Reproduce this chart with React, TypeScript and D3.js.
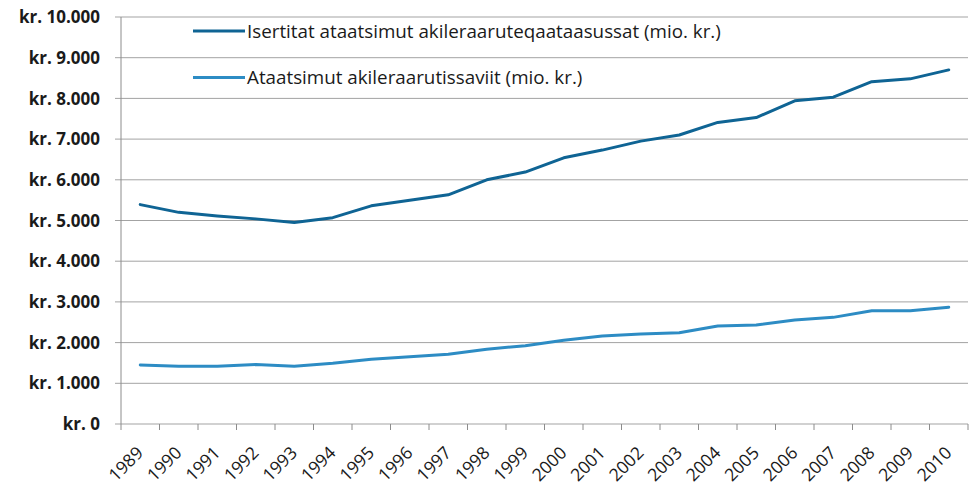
import React from "react";
import * as d3 from "d3";

// values (mio. kr.)
const years = [
  "1989", "1990", "1991", "1992", "1993", "1994", "1995", "1996", "1997", "1998", "1999",
  "2000", "2001", "2002", "2003", "2004", "2005", "2006", "2007", "2008", "2009", "2010",
];
const seriesNames = [
  "Isertitat ataatsimut akileraaruteqaataasussat (mio. kr.)",
  "Ataatsimut akileraarutissaviit (mio. kr.)",
];
const taxableIncome = [
  5390, 5200, 5110, 5040, 4950, 5070, 5360, 5500, 5630, 6000, 6190,
  6540, 6730, 6950, 7100, 7410, 7530, 7940, 8030, 8410, 8480, 8700,
];
const totalTax = [
  1450, 1420, 1420, 1460, 1420, 1490, 1590, 1650, 1715, 1835, 1925,
  2060, 2160, 2210, 2240, 2410, 2430, 2555, 2620, 2785, 2780, 2870,
];
const yTicks = [0, 1000, 2000, 3000, 4000, 5000, 6000, 7000, 8000, 9000, 10000];

const colors = ["#0f6494", "#2d8cc4"];
const font = "'Open Sans', 'Noto Sans', sans-serif";

export default function App() {
  const width = 976;
  const height = 486;
  const left = 121;
  const right = 968;
  const top = 17;
  const bottom = 424;

  const x = d3.scaleBand().domain(years).range([left, right]);
  const y = d3.scaleLinear().domain([0, 10000]).range([bottom, top]);

  const fmt = (v: number) => "kr. " + d3.format(",")(v).replace(/,/g, ".");

  const line = d3
    .line<number>()
    .x((_, i) => (x(years[i]) as number) + x.bandwidth() / 2)
    .y((d) => y(d));

  const series = [taxableIncome, totalTax];
  const bounds = [...years.map((yr) => x(yr) as number), right];

  return (
    <div style={{ position: "absolute", left: 0, top: 0 }}>
      <svg width={width} height={height} style={{ display: "block", background: "#fff" }}>
        {/* gridlines + y labels */}
        {yTicks.map((t) => (
          <g key={t}>
            <line x1={left - 6} x2={right} y1={y(t)} y2={y(t)} stroke="#a3a3a3" strokeWidth={1} />
            <text
              x={100}
              y={y(t)}
              dy="0.36em"
              textAnchor="end"
              fontFamily={font}
              fontWeight="bold"
              fontSize={17}
              fill="#1a1a1a"
            >
              {fmt(t)}
            </text>
          </g>
        ))}
        {/* y axis */}
        <line x1={left} x2={left} y1={top} y2={bottom} stroke="#8c8c8c" strokeWidth={1} />
        {/* x axis ticks */}
        {bounds.map((b, i) => (
          <line key={i} x1={b} x2={b} y1={bottom} y2={bottom + 6} stroke="#8c8c8c" strokeWidth={1} />
        ))}
        {years.map((yr) => {
          const cx = (x(yr) as number) + x.bandwidth() / 2 + 4;
          return (
            <text
              key={yr}
              transform={`translate(${cx},${454}) rotate(-45)`}
              textAnchor="end"
              fontFamily={font}
              fontSize={17.5}
              fill="#1a1a1a"
            >
              {yr}
            </text>
          );
        })}
        {/* lines */}
        {series.map((s, i) => (
          <path
            key={i}
            d={line(s) as string}
            fill="none"
            stroke={colors[i]}
            strokeWidth={3}
            strokeLinejoin="round"
            strokeLinecap="round"
          />
        ))}
        {/* legend */}
        {seriesNames.map((name, i) => {
          const ly = 31 + i * 46.5;
          return (
            <g key={name}>
              <line x1={193} x2={245} y1={ly} y2={ly} stroke={colors[i]} strokeWidth={3} />
              <text x={247} y={ly} dy="0.36em" fontFamily={font} fontSize={18.8} fill="#1a1a1a">
                {name}
              </text>
            </g>
          );
        })}
      </svg>
    </div>
  );
}
